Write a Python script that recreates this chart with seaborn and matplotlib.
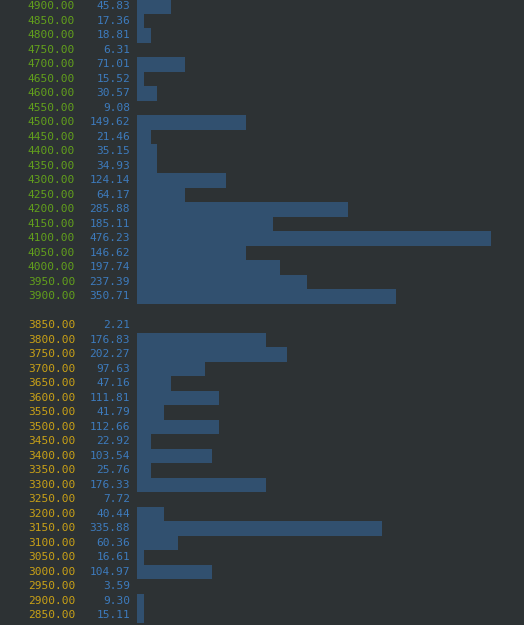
import numpy as np
import pandas as pd
import seaborn as sns
import matplotlib.pyplot as plt

# order book levels, top (asks, green) then bottom (bids, yellow)
ask_prices = [4900, 4850, 4800, 4750, 4700, 4650, 4600, 4550, 4500, 4450, 4400,
              4350, 4300, 4250, 4200, 4150, 4100, 4050, 4000, 3950, 3900]
ask_sizes = [45.83, 17.36, 18.81, 6.31, 71.01, 15.52, 30.57, 9.08, 149.62, 21.46, 35.15,
             34.93, 124.14, 64.17, 285.88, 185.11, 476.23, 146.62, 197.74, 237.39, 350.71]
bid_prices = [3850, 3800, 3750, 3700, 3650, 3600, 3550, 3500, 3450, 3400, 3350,
              3300, 3250, 3200, 3150, 3100, 3050, 3000, 2950, 2900, 2850]
bid_sizes = [2.21, 176.83, 202.27, 97.63, 47.16, 111.81, 41.79, 112.66, 22.92, 103.54, 25.76,
             176.33, 7.72, 40.44, 335.88, 60.36, 16.61, 104.97, 3.59, 9.30, 15.11]

BG = '#2d3234'
BAR = '#31506f'
GREEN = '#62a01c'
YELLOW = '#c9a117'
BLUE = '#3d7bbd'
MAX_CELLS = 52  # terminal width of the longest bar, in characters
CELL = 6.81     # px per character

rows = []
for p, s in zip(ask_prices, ask_sizes):
    rows.append({'label': '%.2f' % p, 'size': s, 'side': 'ask'})
rows.append({'label': ' ', 'size': 0.0, 'side': 'gap'})
for p, s in zip(bid_prices, bid_sizes):
    rows.append({'label': '%.2f' % p, 'size': s, 'side': 'bid'})
df = pd.DataFrame(rows)

# bars are drawn with whole block characters
max_size = max(ask_sizes + bid_sizes)
df['cells'] = np.floor(df['size'] / max_size * MAX_CELLS)

W, H = 524, 625
fig = plt.figure(figsize=(W / 100, H / 100), dpi=100, facecolor=BG)
ax = fig.add_axes([0, 0, 1, 1])
ax.set_facecolor(BG)

sns.barplot(data=df, x='cells', y='label', order=list(df['label']),
            color=BAR, width=1.0, saturation=1, orient='h', ax=ax, linewidth=0)

x0 = 137
row_h = 14.5
y0 = 6.3
ax.set_xlim(-x0 / CELL, (W - x0) / CELL)
top = -y0 / row_h
ax.set_ylim(top + H / row_h, top)
ax.axis('off')

for i, r in df.iterrows():
    if r['side'] == 'gap':
        continue
    col = GREEN if r['side'] == 'ask' else YELLOW
    ax.text((75 - x0) / CELL, i, r['label'], color=col, ha='right', va='center',
            family='DejaVu Sans Mono', fontsize=8)
    ax.text((130 - x0) / CELL, i, '%.2f' % r['size'], color=BLUE, ha='right', va='center',
            family='DejaVu Sans Mono', fontsize=8)

plt.savefig('out.png', dpi=100, facecolor=BG)
